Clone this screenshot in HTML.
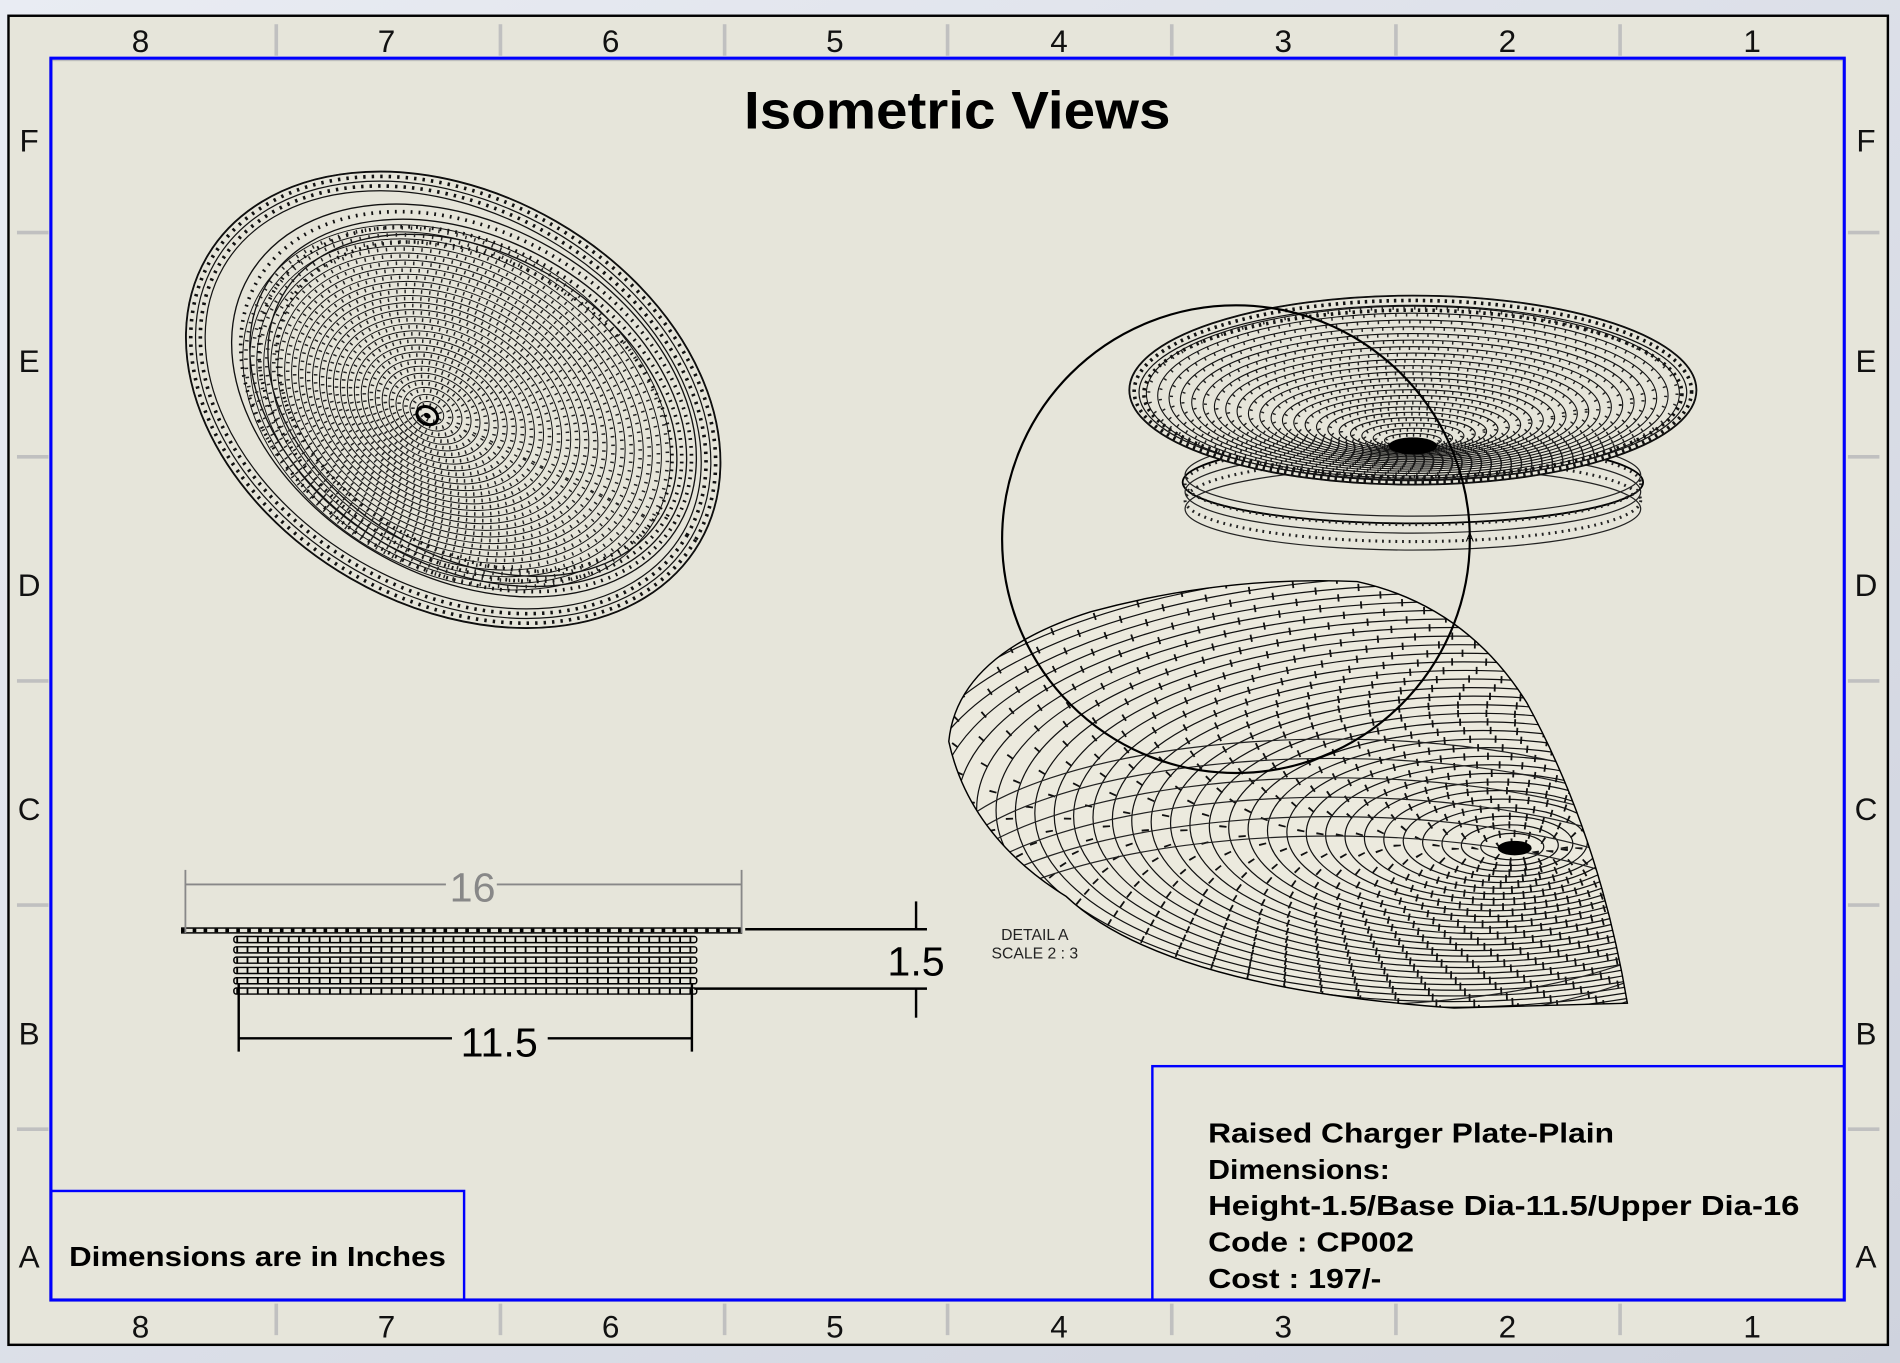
<!DOCTYPE html>
<html><head><meta charset="utf-8"><style>
html,body{margin:0;padding:0;width:1900px;height:1363px;overflow:hidden;background:#dfe2ea}
svg{display:block}
text{font-family:"Liberation Sans",sans-serif}
</style></head><body>
<svg id="s" width="1900" height="1363" viewBox="0 0 1568 1125" preserveAspectRatio="none" xmlns="http://www.w3.org/2000/svg">
<defs>
<linearGradient id="bg" x1="0" y1="0" x2="1" y2="1"><stop offset="0" stop-color="#e9ecf3"/><stop offset="1" stop-color="#cfd3de"/></linearGradient>
<clipPath id="dc"><path d="M783,612 Q790,540 900,505 Q1010,475 1120,480 Q1210,500 1260,580 Q1320,690 1343,828 L1200,832 Q960,815 880,740 Q800,690 783,612 Z"/></clipPath>
</defs>
<rect width="1568" height="1125" fill="url(#bg)"/>
<rect x="7" y="13" width="1551" height="1097" fill="#e6e5da" stroke="#000" stroke-width="2"/>
<rect x="42" y="49" width="1480" height="1024" fill="none" stroke="#bdbdbd" stroke-width="3"/>
<g id="ticks" stroke="#c0c0c0" stroke-width="3"></g>
<g font-size="26" fill="#111" text-anchor="middle">
<text x="116" y="43">8</text><text x="319" y="43">7</text><text x="504" y="43">6</text><text x="689" y="43">5</text><text x="874" y="43">4</text><text x="1059" y="43">3</text><text x="1244" y="43">2</text><text x="1446" y="43">1</text>
<text x="116" y="1104">8</text><text x="319" y="1104">7</text><text x="504" y="1104">6</text><text x="689" y="1104">5</text><text x="874" y="1104">4</text><text x="1059" y="1104">3</text><text x="1244" y="1104">2</text><text x="1446" y="1104">1</text>
<text x="24" y="125">F</text><text x="24" y="307">E</text><text x="24" y="492">D</text><text x="24" y="677">C</text><text x="24" y="862">B</text><text x="24" y="1046">A</text>
<text x="1540" y="125">F</text><text x="1540" y="307">E</text><text x="1540" y="492">D</text><text x="1540" y="677">C</text><text x="1540" y="862">B</text><text x="1540" y="1046">A</text>
</g>
<rect x="42" y="48" width="1480" height="1025" fill="none" stroke="#0000ff" stroke-width="2.5"/>
<rect x="42" y="983" width="341" height="90" fill="none" stroke="#0000ff" stroke-width="2"/>
<rect x="951" y="880" width="571" height="193" fill="none" stroke="#0000ff" stroke-width="2"/>
<text x="614" y="106" font-size="44" font-weight="bold" fill="#000" textLength="352" lengthAdjust="spacingAndGlyphs">Isometric Views</text>
<text x="57" y="1045" font-size="23" font-weight="bold" fill="#000" textLength="311" lengthAdjust="spacingAndGlyphs">Dimensions are in Inches</text>
<g font-size="23" font-weight="bold" fill="#000">
<text x="997" y="943" textLength="335" lengthAdjust="spacingAndGlyphs">Raised Charger Plate-Plain</text>
<text x="997" y="973" textLength="150" lengthAdjust="spacingAndGlyphs">Dimensions:</text>
<text x="997" y="1003" textLength="488" lengthAdjust="spacingAndGlyphs">Height-1.5/Base Dia-11.5/Upper Dia-16</text>
<text x="997" y="1033" textLength="170" lengthAdjust="spacingAndGlyphs">Code : CP002</text>
<text x="997" y="1063" textLength="143" lengthAdjust="spacingAndGlyphs">Cost : 197/-</text>
</g>
<g id="p1"></g><g id="p2"></g><g id="p3" clip-path="url(#dc)"></g><g id="p4"></g>
<circle cx="1020" cy="445" r="193" fill="none" stroke="#000" stroke-width="1.8"/>
<text x="1213" y="447" font-size="10" text-anchor="middle">A</text>
<g font-size="13" fill="#222" text-anchor="middle"><text x="854" y="776">DETAIL A</text><text x="854" y="791">SCALE 2 : 3</text></g>
<g stroke="#888" stroke-width="1.5" fill="none">
<line x1="153" y1="718" x2="153" y2="770"/><line x1="612" y1="718" x2="612" y2="770"/>
<line x1="153" y1="730" x2="368" y2="730"/><line x1="410" y1="730" x2="612" y2="730"/>
</g>
<text x="390" y="744" font-size="34" fill="#888" text-anchor="middle">16</text>
<g stroke="#000" stroke-width="2" fill="none">
<line x1="615" y1="767" x2="765" y2="767"/><line x1="573" y1="816" x2="765" y2="816"/>
<line x1="756" y1="744" x2="756" y2="767"/><line x1="756" y1="816" x2="756" y2="840"/>
<line x1="197" y1="812" x2="197" y2="868"/><line x1="571" y1="812" x2="571" y2="868"/>
<line x1="197" y1="857" x2="373" y2="857"/><line x1="452" y1="857" x2="571" y2="857"/>
</g>
<text x="756" y="805" font-size="34" text-anchor="middle">1.5</text>
<text x="412" y="872" font-size="34" text-anchor="middle">11.5</text>
</svg>
<script>
var NS="http://www.w3.org/2000/svg";
function el(p,t,a){var e=document.createElementNS(NS,t);for(var k in a)e.setAttribute(k,a[k]);p.appendChild(e);return e;}
var tk=document.getElementById("ticks");
[228,413,598,782,967,1152,1337].forEach(function(x){el(tk,"line",{x1:x,y1:20,x2:x,y2:46});el(tk,"line",{x1:x,y1:1076,x2:x,y2:1102});});
[192,377,562,747,932].forEach(function(y){el(tk,"line",{x1:14,y1:y,x2:40,y2:y});el(tk,"line",{x1:1525,y1:y,x2:1551,y2:y});});
// plate 1
var p1=document.getElementById("p1");
var g1=el(p1,"g",{transform:"translate(374,330) rotate(30)"});
el(g1,"ellipse",{cx:0,cy:0,rx:235,ry:170,fill:"#e6e5da",stroke:"#000","stroke-width":1.5});
for(var r=0;r<5;r++){el(g1,"ellipse",{cx:0,cy:0,rx:235-r*4,ry:170-r*4,fill:"none",stroke:"#111","stroke-width":r%2?3:1,"stroke-dasharray":r%2?"2 5":"none"});}
// inner bowl wall
for(var r=0;r<6;r++){el(g1,"ellipse",{cx:8+r*2,cy:-4,rx:205-r*6,ry:145-r*5,fill:"none",stroke:"#111","stroke-width":r%2?3:1.1,"stroke-dasharray":r%2?"1.5 5":"none"});}
for(var i=0;i<26;i++){var f=0.8-i*0.03;if(f<0.03)break;var ox=-20*(1-f)*1.1+10,oy=18*(1-f)*1.1;
 var rx=235*f,ry=170*f;
 el(g1,"ellipse",{cx:ox,cy:oy,rx:rx,ry:ry,fill:"none",stroke:"#111","stroke-width":0.8});
 el(g1,"ellipse",{cx:ox,cy:oy,rx:rx-2.5,ry:ry-2.5,fill:"none",stroke:"#222","stroke-width":3,"stroke-dasharray":"1.2 "+(4+f*3)});}
el(g1,"ellipse",{cx:-12,cy:22,rx:9,ry:7,fill:"none",stroke:"#000","stroke-width":2.5});
el(g1,"ellipse",{cx:-12,cy:22,rx:3,ry:2,fill:"#000"});
// plate 2
var p2=document.getElementById("p2");
el(p2,"ellipse",{cx:1166,cy:398,rx:190,ry:34,fill:"#e6e5da",stroke:"#000","stroke-width":1.5});
for(var j=0;j<5;j++){el(p2,"ellipse",{cx:1166,cy:392+j*7,rx:188,ry:34,fill:"none",stroke:"#222","stroke-width":j%2?2.5:1,"stroke-dasharray":j%2?"1.5 4":"none"});}
el(p2,"ellipse",{cx:1166,cy:322,rx:234,ry:78,fill:"#e6e5da",stroke:"#000","stroke-width":1.5});
for(var r=0;r<4;r++){el(p2,"ellipse",{cx:1166,cy:322+r,rx:234-r*4,ry:78-r*3,fill:"none",stroke:"#111","stroke-width":r%2?3:1,"stroke-dasharray":r%2?"2 4":"none"});}
for(var i=0;i<24;i++){var f=0.94-i*0.04;if(f<0.03)break;var cy=322+46*(1-f);
 el(p2,"ellipse",{cx:1166,cy:cy,rx:234*f,ry:78*f*(0.7+0.3*f),fill:"none",stroke:"#111","stroke-width":0.9});
 el(p2,"ellipse",{cx:1166,cy:cy,rx:234*f-2,ry:78*f*(0.7+0.3*f)-1.5,fill:"none",stroke:"#222","stroke-width":2.5,"stroke-dasharray":"1.2 "+(4+f*4)});}
el(p2,"ellipse",{cx:1166,cy:368,rx:20,ry:7,fill:"#000"});
// detail
var p3=document.getElementById("p3");
el(p3,"rect",{x:770,y:470,width:600,height:380,fill:"#eceade"});
for(var i=0;i<40;i++){var rx=12+i*14,ry=rx*0.42;var cy=700-i*1.2, cx=1250-i*2;
 el(p3,"ellipse",{cx:cx,cy:cy,rx:rx,ry:ry,fill:"none",stroke:"#111","stroke-width":1});
 el(p3,"ellipse",{cx:cx,cy:cy+3,rx:rx+5,ry:ry+3,fill:"none",stroke:"#111","stroke-width":6,"stroke-dasharray":"1.5 "+(10+i*0.8)});}
for(var k=0;k<6;k++){el(p3,"ellipse",{cx:1100,cy:720+k*16,rx:330,ry:110,fill:"none",stroke:"#222","stroke-width":1});}
el(p3,"ellipse",{cx:1250,cy:700,rx:14,ry:6,fill:"#000"});
el(document.getElementById("s"),"path",{d:"M783,612 Q790,540 900,505 Q1010,475 1120,480 Q1210,500 1260,580 Q1320,690 1343,828 L1200,832 Q960,815 880,740 Q800,690 783,612 Z",fill:"none",stroke:"#000","stroke-width":1.2});
// side view
var p4=document.getElementById("p4");
el(p4,"rect",{x:150,y:766,width:462,height:4,fill:"#e6e5da",stroke:"#000","stroke-width":1.2});
el(p4,"line",{x1:150,y1:768,x2:612,y2:768,stroke:"#000","stroke-width":3,"stroke-dasharray":"3 6"});
for(var r=0;r<6;r++){var y=773+r*8.5;
 el(p4,"rect",{x:193,y:y,width:382,height:5,rx:2,fill:"none",stroke:"#000","stroke-width":1.2});
 el(p4,"line",{x1:195,y1:y+2.5,x2:573,y2:y+2.5,stroke:"#000","stroke-width":4,"stroke-dasharray":"1.5 7"});}
</script>
</body></html>
